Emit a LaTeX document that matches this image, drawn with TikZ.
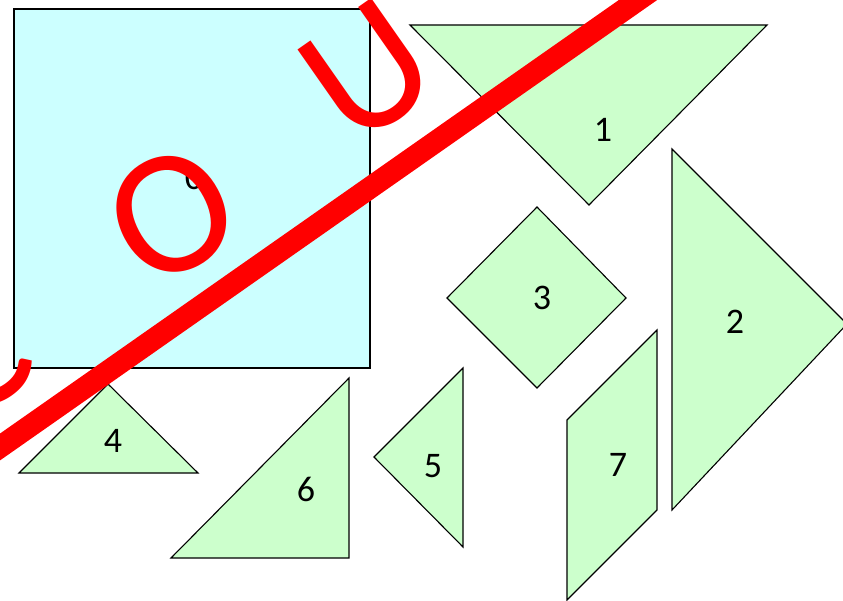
\documentclass[tikz,border=0pt]{standalone}
\usepackage{fontspec}
\setmainfont{Carlito}
\definecolor{piecegreen}{RGB}{204,255,204}
\definecolor{sqcyan}{RGB}{204,255,255}
\definecolor{markred}{RGB}{255,0,0}
\begin{document}
\begin{tikzpicture}[x=1pt,y=-1pt,
  piece/.style={draw=black,line width=1.1pt,line join=miter,fill=piecegreen},
  sqpiece/.style={draw=black,line width=1.1pt,fill=sqcyan},
  numlabel/.style={inner sep=0pt,font=\fontsize{36}{36}\selectfont},
  bigletter/.style={inner sep=0pt,text=markred,rotate=35,font=\fontsize{178}{178}\selectfont},
  slash/.style={draw=markred,line width=22pt}]
\useasboundingbox (0,0) rectangle (843,601);
\clip (0,0) rectangle (843,601);
% pieces
\draw[sqpiece] (14,9) rectangle (370,368);
\draw[piece] (410,25) -- (767,25) -- (589,205) -- cycle;
\draw[piece] (672,149) -- (847,324) -- (672,510) -- cycle;
\draw[piece] (537,207) -- (626,298) -- (537,388) -- (447,298) -- cycle;
\draw[piece] (108,384) -- (198,473) -- (19,473) -- cycle;
\draw[piece] (463,368) -- (463,547) -- (374,457) -- cycle;
\draw[piece] (349,378) -- (349,558) -- (171,558) -- cycle;
\draw[piece] (567,420) -- (657,330) -- (657,510) -- (567,600) -- cycle;
% labels
\node[numlabel] (l0) at (194,178) {0};
\node[numlabel] (l1) at (603,130) {1};
\node[numlabel] (l2) at (735,322) {2};
\node[numlabel] (l3) at (542,298) {3};
\node[numlabel] (l4) at (113,441) {4};
\node[numlabel] (l5) at (433,466) {5};
\node[numlabel] (l6) at (306,489) {6};
\node[numlabel] (l7) at (618,465) {7};
% red mark
\coordinate (s1) at (-30,468);
\coordinate (s2) at (668,-21);
\draw[slash] (s1) -- (s2);
\node[bigletter] (mc) at (-27,352) {C};
\node[bigletter,rotate=-7] (mo) at (172,214) {O};
\node[bigletter] (mu) at (368,72) {U};
\end{tikzpicture}
\end{document}
